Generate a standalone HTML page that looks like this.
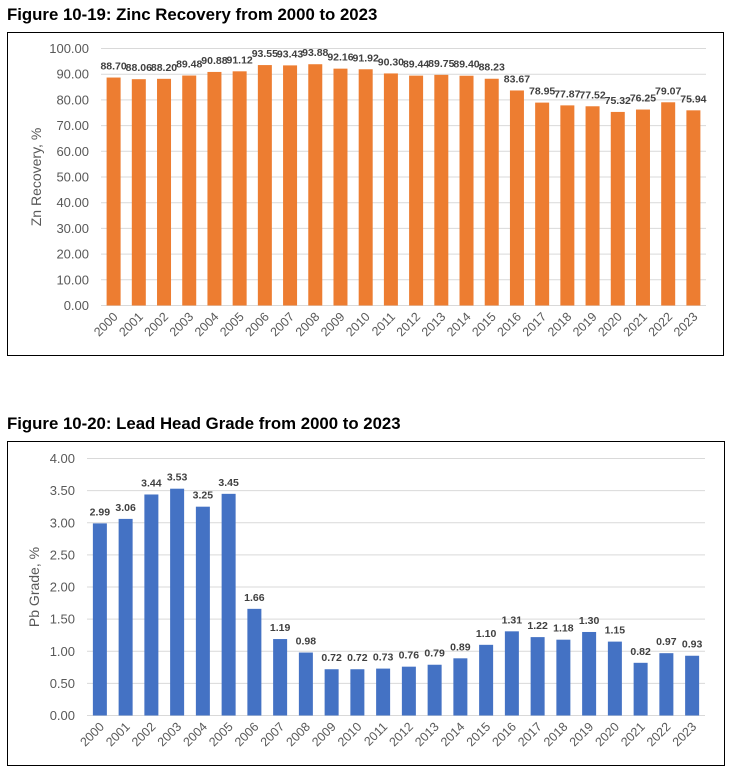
<!DOCTYPE html>
<html><head><meta charset="utf-8"><style>
body{margin:0;background:#fff;width:732px;height:774px;overflow:hidden}
svg{display:block}
.t{font-family:"Liberation Sans",Arial,sans-serif;font-weight:bold;font-size:16.8px;fill:#000}
.tick{font-family:"Liberation Sans",sans-serif;font-size:13px;fill:#595959}
.lab{font-family:"Liberation Sans",sans-serif;font-size:10.5px;font-weight:bold;fill:#404040}
</style></head><body>
<svg id="s" width="732" height="774">
<text class="t" x="7" y="20">Figure 10-19: Zinc Recovery from 2000 to 2023</text>
<rect x="7.5" y="32.5" width="716" height="323" fill="none" stroke="#000" stroke-width="1"/>
<text class="t" x="7" y="429">Figure 10-20: Lead Head Grade from 2000 to 2023</text>
<rect x="7.5" y="441.5" width="717" height="324" fill="none" stroke="#000" stroke-width="1"/>
<g id="c1"></g><g id="c2"></g>
</svg>
<script>
const years=["2000","2001","2002","2003","2004","2005","2006","2007","2008","2009","2010","2011","2012","2013","2014","2015","2016","2017","2018","2019","2020","2021","2022","2023"];
const znValues=[88.70,88.06,88.20,89.48,90.88,91.12,93.55,93.43,93.88,92.16,91.92,90.30,89.44,89.75,89.40,88.23,83.67,78.95,77.87,77.52,75.32,76.25,79.07,75.94];
const znTicks=[0,10,20,30,40,50,60,70,80,90,100];
const pbValues=[2.99,3.06,3.44,3.53,3.25,3.45,1.66,1.19,0.98,0.72,0.72,0.73,0.76,0.79,0.89,1.10,1.31,1.22,1.18,1.30,1.15,0.82,0.97,0.93];
const pbTicks=[0,0.5,1,1.5,2,2.5,3,3.5,4];
const NS="http://www.w3.org/2000/svg";
function mk(p,tag,a,txt){const e=document.createElementNS(NS,tag);for(const k in a)e.setAttribute(k,a[k]);if(txt!=null)e.textContent=txt;p.appendChild(e);return e;}
function chart(gid,vals,ticks,cfg){
  const g=document.getElementById(gid);
  const max=ticks[ticks.length-1];
  const y=v=>cfg.y0-(v/max)*(cfg.y0-cfg.y1);
  const step=(cfg.xr-cfg.xl)/years.length;
  const x=i=>cfg.xl+step*(i+0.5);
  ticks.forEach(t=>{
    const l=mk(g,'line',{x1:cfg.xl,x2:cfg.xr,y1:y(t),y2:y(t),stroke:'#d9d9d9','stroke-width':1});
    
    
    const tx=mk(g,'text',{class:'tick',x:cfg.xl-12,y:y(t)+4.5,'text-anchor':'end'},t.toFixed(2));
    
    
  });
  const at=mk(g,'text',{class:'tick',x:0,y:0,'text-anchor':'middle',transform:`translate(${cfg.tx},${(cfg.y0+cfg.y1)/2}) rotate(-90)`,style:'font-size:14px'},cfg.title);
  
  
  vals.forEach((v,i)=>{
    const bw=14;
    const r=mk(g,'rect',{x:x(i)-bw/2,y:y(v),width:bw,height:cfg.y0-y(v),fill:cfg.color});
    
    
    const lb=mk(g,'text',{class:'lab',x:x(i),y:y(v)-8,'text-anchor':'middle'},v.toFixed(2));
    
    
    const xl=mk(g,'text',{class:'tick',x:0,y:0,'text-anchor':'end',transform:`translate(${x(i)+5},${cfg.y0+12}) rotate(-45)`,style:'font-size:12.5px'},years[i]);
    
    
  });
}
chart('c1',znValues,znTicks,{xl:101,xr:706,y0:305.5,y1:48.5,color:'#ed7d31',title:'Zn Recovery, %',tx:41});
chart('c2',pbValues,pbTicks,{xl:87,xr:705,y0:715.5,y1:458.5,color:'#4472c4',title:'Pb Grade, %',tx:39});
</script>
</body></html>
